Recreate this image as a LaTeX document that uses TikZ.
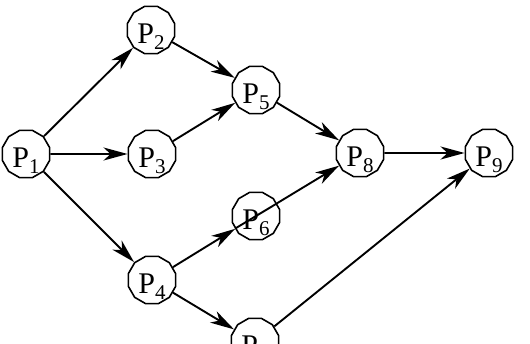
\documentclass[tikz,border=0pt]{standalone}
\usepackage{fontspec}
\setmainfont{Liberation Serif}
\usetikzlibrary{shapes.geometric,arrows.meta}
\newcommand{\pnm}[1]{P\raisebox{-6pt}{\fontsize{21}{21}\selectfont #1}}
\begin{document}
\begin{tikzpicture}[x=1pt,y=-1pt,
  pnode/.style={draw,line width=1.6pt,regular polygon,regular polygon sides=12,
    minimum size=49pt,inner sep=0pt,text height=27pt,text depth=0pt,
    font=\fontsize{30}{30}\selectfont},
  arr/.style={line width=1.9pt,-{Stealth[length=24pt,width=13pt,inset=7pt]}},
  ln/.style={line width=1.9pt}]
\useasboundingbox (0,0) rectangle (530,343);
\node[pnode] (P1) at (26,154) {\pnm{1}};
\node[pnode] (P2) at (151,30) {\pnm{2}};
\node[pnode] (P3) at (152,154) {\pnm{3}};
\node[pnode] (P4) at (152,280) {\pnm{4}};
\node[pnode] (P5) at (256,90) {\pnm{5}};
\node[pnode] (P6) at (256,216) {\pnm{6}};
\node[pnode] (P7) at (255,342) {\pnm{7}};
\node[pnode] (P8) at (360,153) {\pnm{8}};
\node[pnode] (P9) at (489,153) {\pnm{9}};
\draw[arr] (P1) -- (P2);
\draw[arr] (P1) -- (P3);
\draw[arr] (P1) -- (P4);
\draw[arr] (P2) -- (P5);
\draw[arr] (P3) -- (P5);
\draw[arr] (P4) -- (P6);
\draw[arr] (P4) -- (P7);
\draw[arr] (P5) -- (P8);
\draw[ln] (P6.211) -- (P6.31);
\draw[arr] (P6) -- (P8);
\draw[arr] (P7) -- (P9);
\draw[arr] (P8) -- (P9);
\end{tikzpicture}
\end{document}
